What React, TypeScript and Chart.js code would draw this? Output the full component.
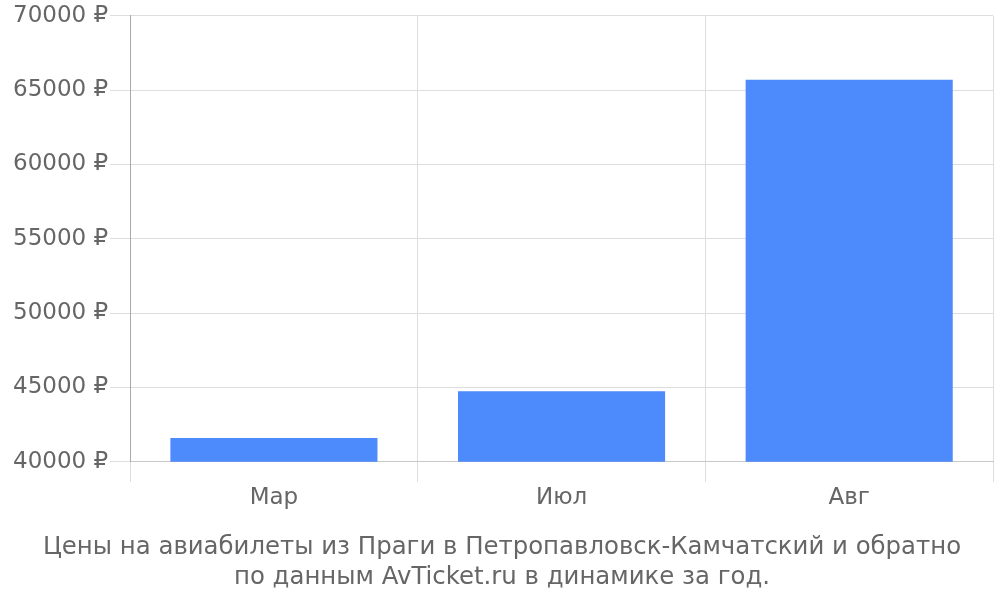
import { useEffect, useRef } from 'react';
import { Chart, registerables } from 'chart.js';

Chart.register(...registerables);

const months = ['Мар', 'Июл', 'Авг'];
const prices = [41600, 44750, 65700];
const titleLines = [
  'Цены на авиабилеты из Праги в Петропавловск-Камчатский и обратно',
  'по данным AvTicket.ru в динамике за год.',
];

export default function App() {
  const canvasRef = useRef<HTMLCanvasElement>(null);

  useEffect(() => {
    document.body.style.margin = '0';
    if (!canvasRef.current) return;
    const chart = new Chart(canvasRef.current, {
      type: 'bar',
      data: {
        labels: months,
        datasets: [
          {
            data: prices,
            backgroundColor: '#4d8afc',
          },
        ],
      },
      options: {
        animation: false,
        responsive: true,
        maintainAspectRatio: false,
        layout: { padding: { top: 3, right: 7, left: 11, bottom: 8 } },
        plugins: {
          legend: { display: false },
          tooltip: { enabled: false },
          title: {
            display: true,
            position: 'bottom',
            text: titleLines,
            color: '#666',
            font: { family: 'DejaVu Sans', size: 24.4, weight: 'normal' },
            padding: { top: 20, bottom: 0 },
            lineHeight: 1.15,
          },
        },
        scales: {
          x: {
            grid: { color: '#dddddd', tickLength: 20 },
            border: { color: '#c8c8c8' },
            ticks: { color: '#666', font: { family: 'DejaVu Sans', size: 23 }, padding: 2 },
          },
          y: {
            min: 40000,
            max: 70000,
            grid: { color: '#dddddd', tickLength: 20 },
            border: { color: '#aaa' },
            ticks: {
              stepSize: 5000,
              color: '#666',
              padding: 2,
              font: { family: 'DejaVu Sans', size: 23 },
              callback: (v) => `${v} ₽`,
            },
          },
        },
      },
    });
    return () => chart.destroy();
  }, []);

  return (
    <div style={{ width: 1000, height: 600, position: 'relative' }}>
      <canvas ref={canvasRef} />
    </div>
  );
}
